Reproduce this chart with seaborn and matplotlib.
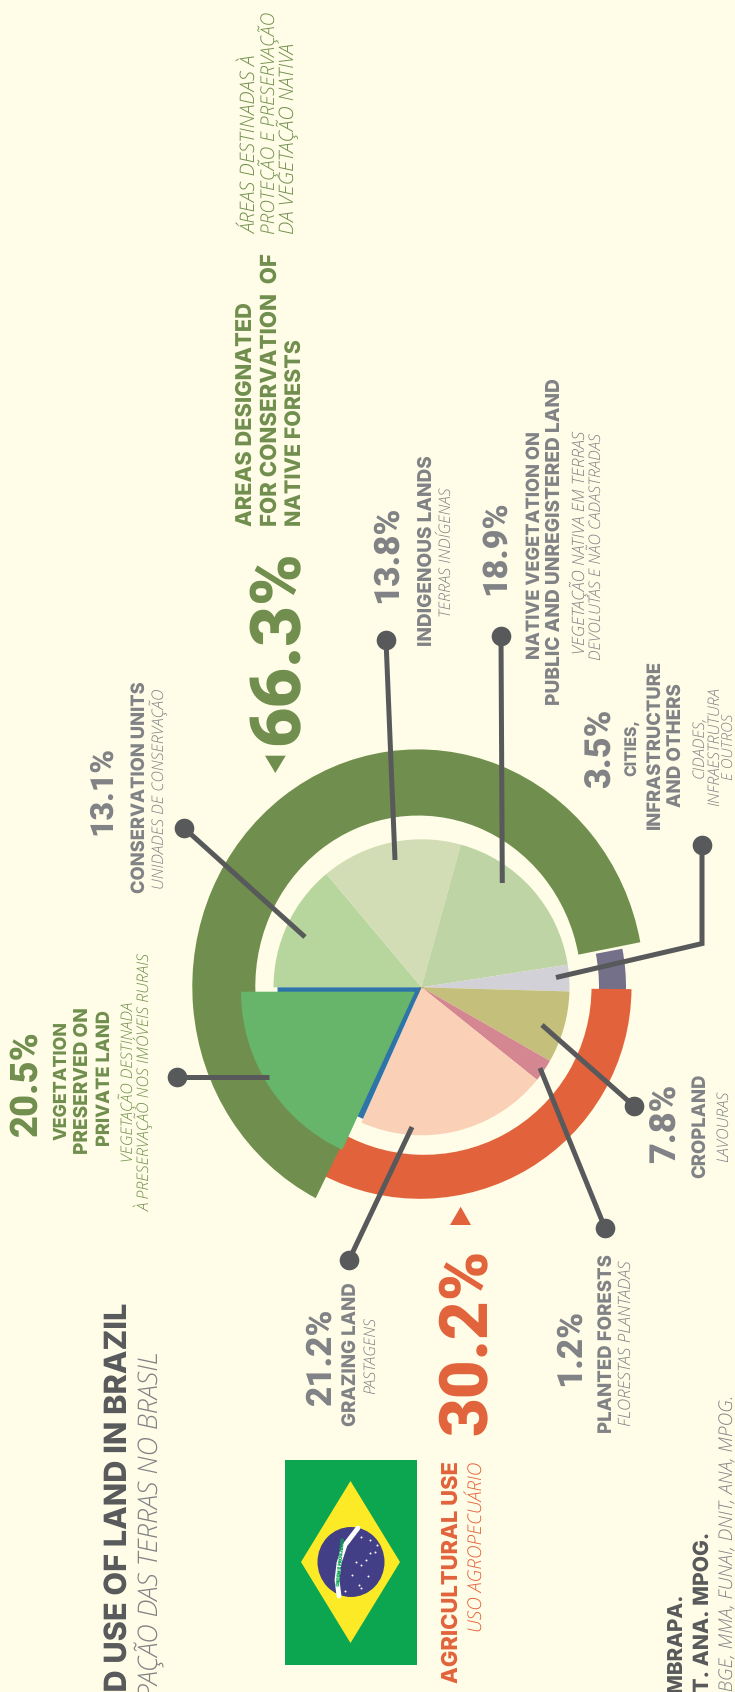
import matplotlib
matplotlib.use('Agg')
import matplotlib.pyplot as plt
import seaborn as sns
from matplotlib.patches import Ellipse, Polygon, Rectangle
from matplotlib.transforms import Affine2D

sns.set_theme(style='white')
plt.rcParams['text.hinting'] = 'none'
plt.rcParams['text.hinting_factor'] = 1

BG = '#FFFDE7'
GRAY = '#808285'
DARK = '#58595B'
GREEN = '#708E4D'
ORANGE = '#E2633B'

# the slices are not quite drawn to scale in the picture, so degrees are read off it
slice_names = ['Conservation units', 'Indigenous lands', 'Native vegetation', 'Cities',
               'Cropland', 'Planted forests', 'Grazing land', 'Private land']
slice_percent = [13.1, 13.8, 18.9, 3.5, 7.8, 1.2, 21.2, 20.5]
slice_degrees = [50, 55.4, 65.8, 10.4, 28.2, 8.9, 75.3, 66]
slice_colors = ['#B7D69E', '#D3DDB5', '#BFD4A5', '#D2D1D7', '#C4C07C', '#D58791', '#FAD1B6', '#2F74A8']
private_degrees = 65.3
ring_green_degrees = 232.2
ring_purple_degrees = 11.8
ring_orange_degrees = 117

fig = plt.figure(figsize=(7.35, 16.92), dpi=100, facecolor=BG)
ax = fig.add_axes([0, 0, 1, 1])
ax.set_facecolor(BG)


def Y(y):
    return 1692 - y


def pie_part(degrees, start, color, center, radius, **wedge):
    parts, _ = ax.pie([degrees, 360 - degrees], colors=[color, 'none'], startangle=start, counterclock=False,
                      radius=radius, center=center, frame=True, wedgeprops=dict(linewidth=0, **wedge))
    return parts[0]


c = (420, Y(987.3))

# outer rings
pie_part(ring_purple_degrees, 10.8, '#74708A', c, 206, width=27)
pie_part(ring_orange_degrees, -0.5, ORANGE, c, 211.5)
pie_part(124, 0.5, BG, (424, c[1]), 167.5)
ring = pie_part(ring_green_degrees, 243, GREEN, (0, 0), 226, width=63)
ring.set_transform(Affine2D().scale(1, 1.05).translate(418.3, Y(986.7)) + ax.transData)

# inner pie, the blue slice sits under the pulled out green one
wedges, _ = ax.pie(slice_degrees, colors=slice_colors, startangle=180, counterclock=False, radius=148,
                   center=(421.5, c[1]), frame=True, wedgeprops=dict(linewidth=0))
wedges[-1].set_radius(144)
pie_part(private_degrees, 245.3, '#66B56B', (415, Y(991.7)), 174)

ax.set_xlim(0, 735)
ax.set_ylim(0, 1692)
ax.set_aspect('equal')
ax.axis('off')

# leader lines
leaders = [
    ([386, 395], [640, 860]),
    ([501, 502.3], [636, 883]),
    ([184, 305], [828, 937]),
    ([176.7, 268.7], [1077, 1077]),
    ([702, 702, 556], [845, 943.6, 977.5]),
    ([634, 542], [1106, 1025]),
    ([605, 540], [1228, 1068]),
    ([349, 412], [1260, 1127]),
]
for lx, ly in leaders:
    sns.lineplot(x=lx, y=[Y(v) for v in ly], color=DARK, linewidth=3.6, sort=False, estimator=None, ax=ax,
                 solid_capstyle='butt', solid_joinstyle='miter', zorder=5)
sns.scatterplot(x=[p[0][0] for p in leaders], y=[Y(p[1][0]) for p in leaders], color=DARK, s=200, linewidth=0,
                ax=ax, zorder=6)

# triangles next to the big numbers
ax.add_patch(Polygon([(265, Y(755.7)), (285.7, Y(755.7)), (275.3, Y(773))], color=GREEN, lw=0))
ax.add_patch(Polygon([(460.7, Y(1206.7)), (450, Y(1225)), (471, Y(1225))], color=ORANGE, lw=0))

# flag
ax.add_patch(Rectangle((285, Y(1665)), 132, 205, color='#0CA651', lw=0))
ax.add_patch(Polygon([(350.5, Y(1481)), (400, Y(1562)), (350.5, Y(1643)), (301, Y(1562))], color='#FBEA25', lw=0))
ax.add_patch(Ellipse((351, Y(1562)), 67, 70, color='#433F87', lw=0))
band_x = [358, 345, 339, 337, 339]
band_y = [1528, 1545, 1563, 1580, 1596]
ax.plot(band_x, [Y(v) for v in band_y], color='white', lw=3.5, zorder=3)
ax.text(341, Y(1562), 'ORDEM E PROGRESSO', rotation=84, fontsize=3.2, color='#0CA651', ha='center', va='center',
        zorder=4, family='Inter', weight='bold')
star_x = [361, 370, 377, 370, 375, 340, 366, 356, 361, 352, 368, 359, 361, 345]
star_y = [1537, 1540, 1545, 1553, 1552, 1552, 1560, 1562, 1565, 1575, 1576, 1585, 1588, 1591]
sns.scatterplot(x=star_x, y=[Y(v) for v in star_y], color='white', s=2, linewidth=0, ax=ax, zorder=4)

renderer = fig.canvas.get_renderer()
BOLD = dict(family='Inter', weight=800)
NUMBER = dict(family='Roboto', style='normal', weight=900)
LIGHT = dict(family='Open Sans', style='italic', weight=300)


def label(txt, x, start, end, color=GRAY, kw=BOLD):
    # text runs bottom to top, size is chosen so it spans start..end, x is the middle of the capitals
    t = ax.text(x, Y(start), txt, rotation=90, rotation_mode='anchor', ha='left', va='baseline', color=color,
                fontsize=10, **kw)
    size = 10 * (start - end) / t.get_window_extent(renderer).height
    t.set_fontsize(size)
    t.set_x(x + 0.36 * size * 100 / 72)


def cut_label(txt, visible, x, end, length, color=DARK, kw=BOLD):
    # runs off the bottom of the picture, sized on the part that can be seen
    t = ax.text(x, Y(end), visible, rotation=90, rotation_mode='anchor', ha='right', va='baseline', color=color,
                fontsize=10, **kw)
    size = 10 * length / t.get_window_extent(renderer).height
    t.set_fontsize(size)
    t.set_x(x + 0.36 * size * 100 / 72)
    t.set_text(txt)


number_labels = [
    ('30.2%', 462, 1435, 1247, ORANGE),
    ('1.2%', 567, 1386, 1309, GRAY),
    ('21.2%', 318, 1405, 1308, GRAY),
    ('66.3%', 273, 745, 550, GREEN),
    ('13.8%', 384, 603, 504, GRAY),
    ('18.9%', 493, 595, 499, GRAY),
    ('13.1%', 100, 835, 746, GRAY),
    ('20.5%', 23, 1136, 1028, GREEN),
    ('3.5%', 598, 787.5, 707, GRAY),
    ('7.8%', 663, 1163, 1084, GRAY),
]
bold_labels = [
    ('AGRICULTURAL USE', 450, 1683, 1461, ORANGE),
    ('PLANTED FORESTS', 606, 1433, 1254, GRAY),
    ('GRAZING LAND', 350, 1426, 1282, GRAY),
    ('AREAS DESIGNATED', 243.5, 526, 302, GREEN),
    ('FOR CONSERVATION  OF', 269, 526, 253, GREEN),
    ('NATIVE FORESTS', 294, 526, 339, GREEN),
    ('INDIGENOUS LANDS', 425, 646, 455, GRAY),
    ('NATIVE VEGETATION ON', 533, 659, 431, GRAY),
    ('PUBLIC AND UNREGISTERED LAND', 553, 705, 378, GRAY),
    ('CONSERVATION UNITS', 138.5, 893, 681, GRAY),
    ('VEGETATION', 60, 1140, 1021, GREEN),
    ('PRESERVED ON', 81, 1154, 1007, GREEN),
    ('PRIVATE LAND', 103, 1146, 1010, GREEN),
    ('CITIES,', 631.5, 776, 719, GRAY),
    ('INFRASTRUCTURE', 653, 829, 660, GRAY),
    ('AND OTHERS', 675, 807, 683, GRAY),
    ('CROPLAND', 698, 1177.5, 1073, GRAY),
]
light_labels = [
    ('USO AGROPECUÁRIO', 475, 1632, 1460, ORANGE),
    ('FLORESTAS PLANTADAS', 625, 1426, 1263, GRAY),
    ('PASTAGENS', 369.5, 1394, 1314, GRAY),
    ('ÁREAS DESTINADAS À', 249, 234, 58, GREEN),
    ('PROTEÇÃO E PRESERVAÇÃO', 268, 234, 4, GREEN),
    ('DA VEGETAÇÃO NATIVA', 287, 234, 45, GREEN),
    ('TERRAS INDÍGENAS', 445, 617, 484, GRAY),
    ('VEGETAÇÃO NATIVA EM TERRAS', 579, 654, 435, GRAY),
    ('DEVOLUTAS E NÃO CADASTRADAS', 595, 660, 425, GRAY),
    ('UNIDADES DE CONSERVAÇÃO', 158, 889, 684, GRAY),
    ('VEGETAÇÃO DESTINADA', 127.5, 1162, 996, GREEN),
    ('À PRESERVAÇÃO NOS IMÓVEIS RURAIS', 144.5, 1211, 945, GREEN),
    ('CIDADES,', 698, 777.5, 716, GRAY),
    ('INFRAESTRUTURA', 713.5, 806, 685, GRAY),
    ('E OUTROS', 728.5, 780, 711, GRAY),
    ('LAVOURAS', 722, 1162, 1088, GRAY),
]
for txt, x, start, end, col in number_labels:
    label(txt, x, start, end, col, NUMBER)
for txt, x, start, end, col in bold_labels:
    label(txt, x, start, end, col)
for txt, x, start, end, col in light_labels:
    label(txt, x, start, end, col, LIGHT)

cut_label('LAND USE OF LAND IN BRAZIL', 'USE OF LAND IN BRAZIL', 116, 1303, 360)
cut_label('OCUPAÇÃO DAS TERRAS NO BRASIL', 'PAÇÃO DAS TERRAS NO BRASIL', 148, 1351.7, 354, GRAY, LIGHT)
cut_label('EMBRAPA.', 'MBRAPA.', 675, 1592.7, 99)
cut_label('DNIT. ANA. MPOG.', 'T. ANA. MPOG.', 701, 1531.7, 160)
cut_label('IBGE, MMA, FUNAI, DNIT, ANA, MPOG.', 'BGE, MMA, FUNAI, DNIT, ANA, MPOG.', 727, 1395, 297, GRAY, LIGHT)

fig.savefig('out.png', dpi=100, facecolor=BG)
